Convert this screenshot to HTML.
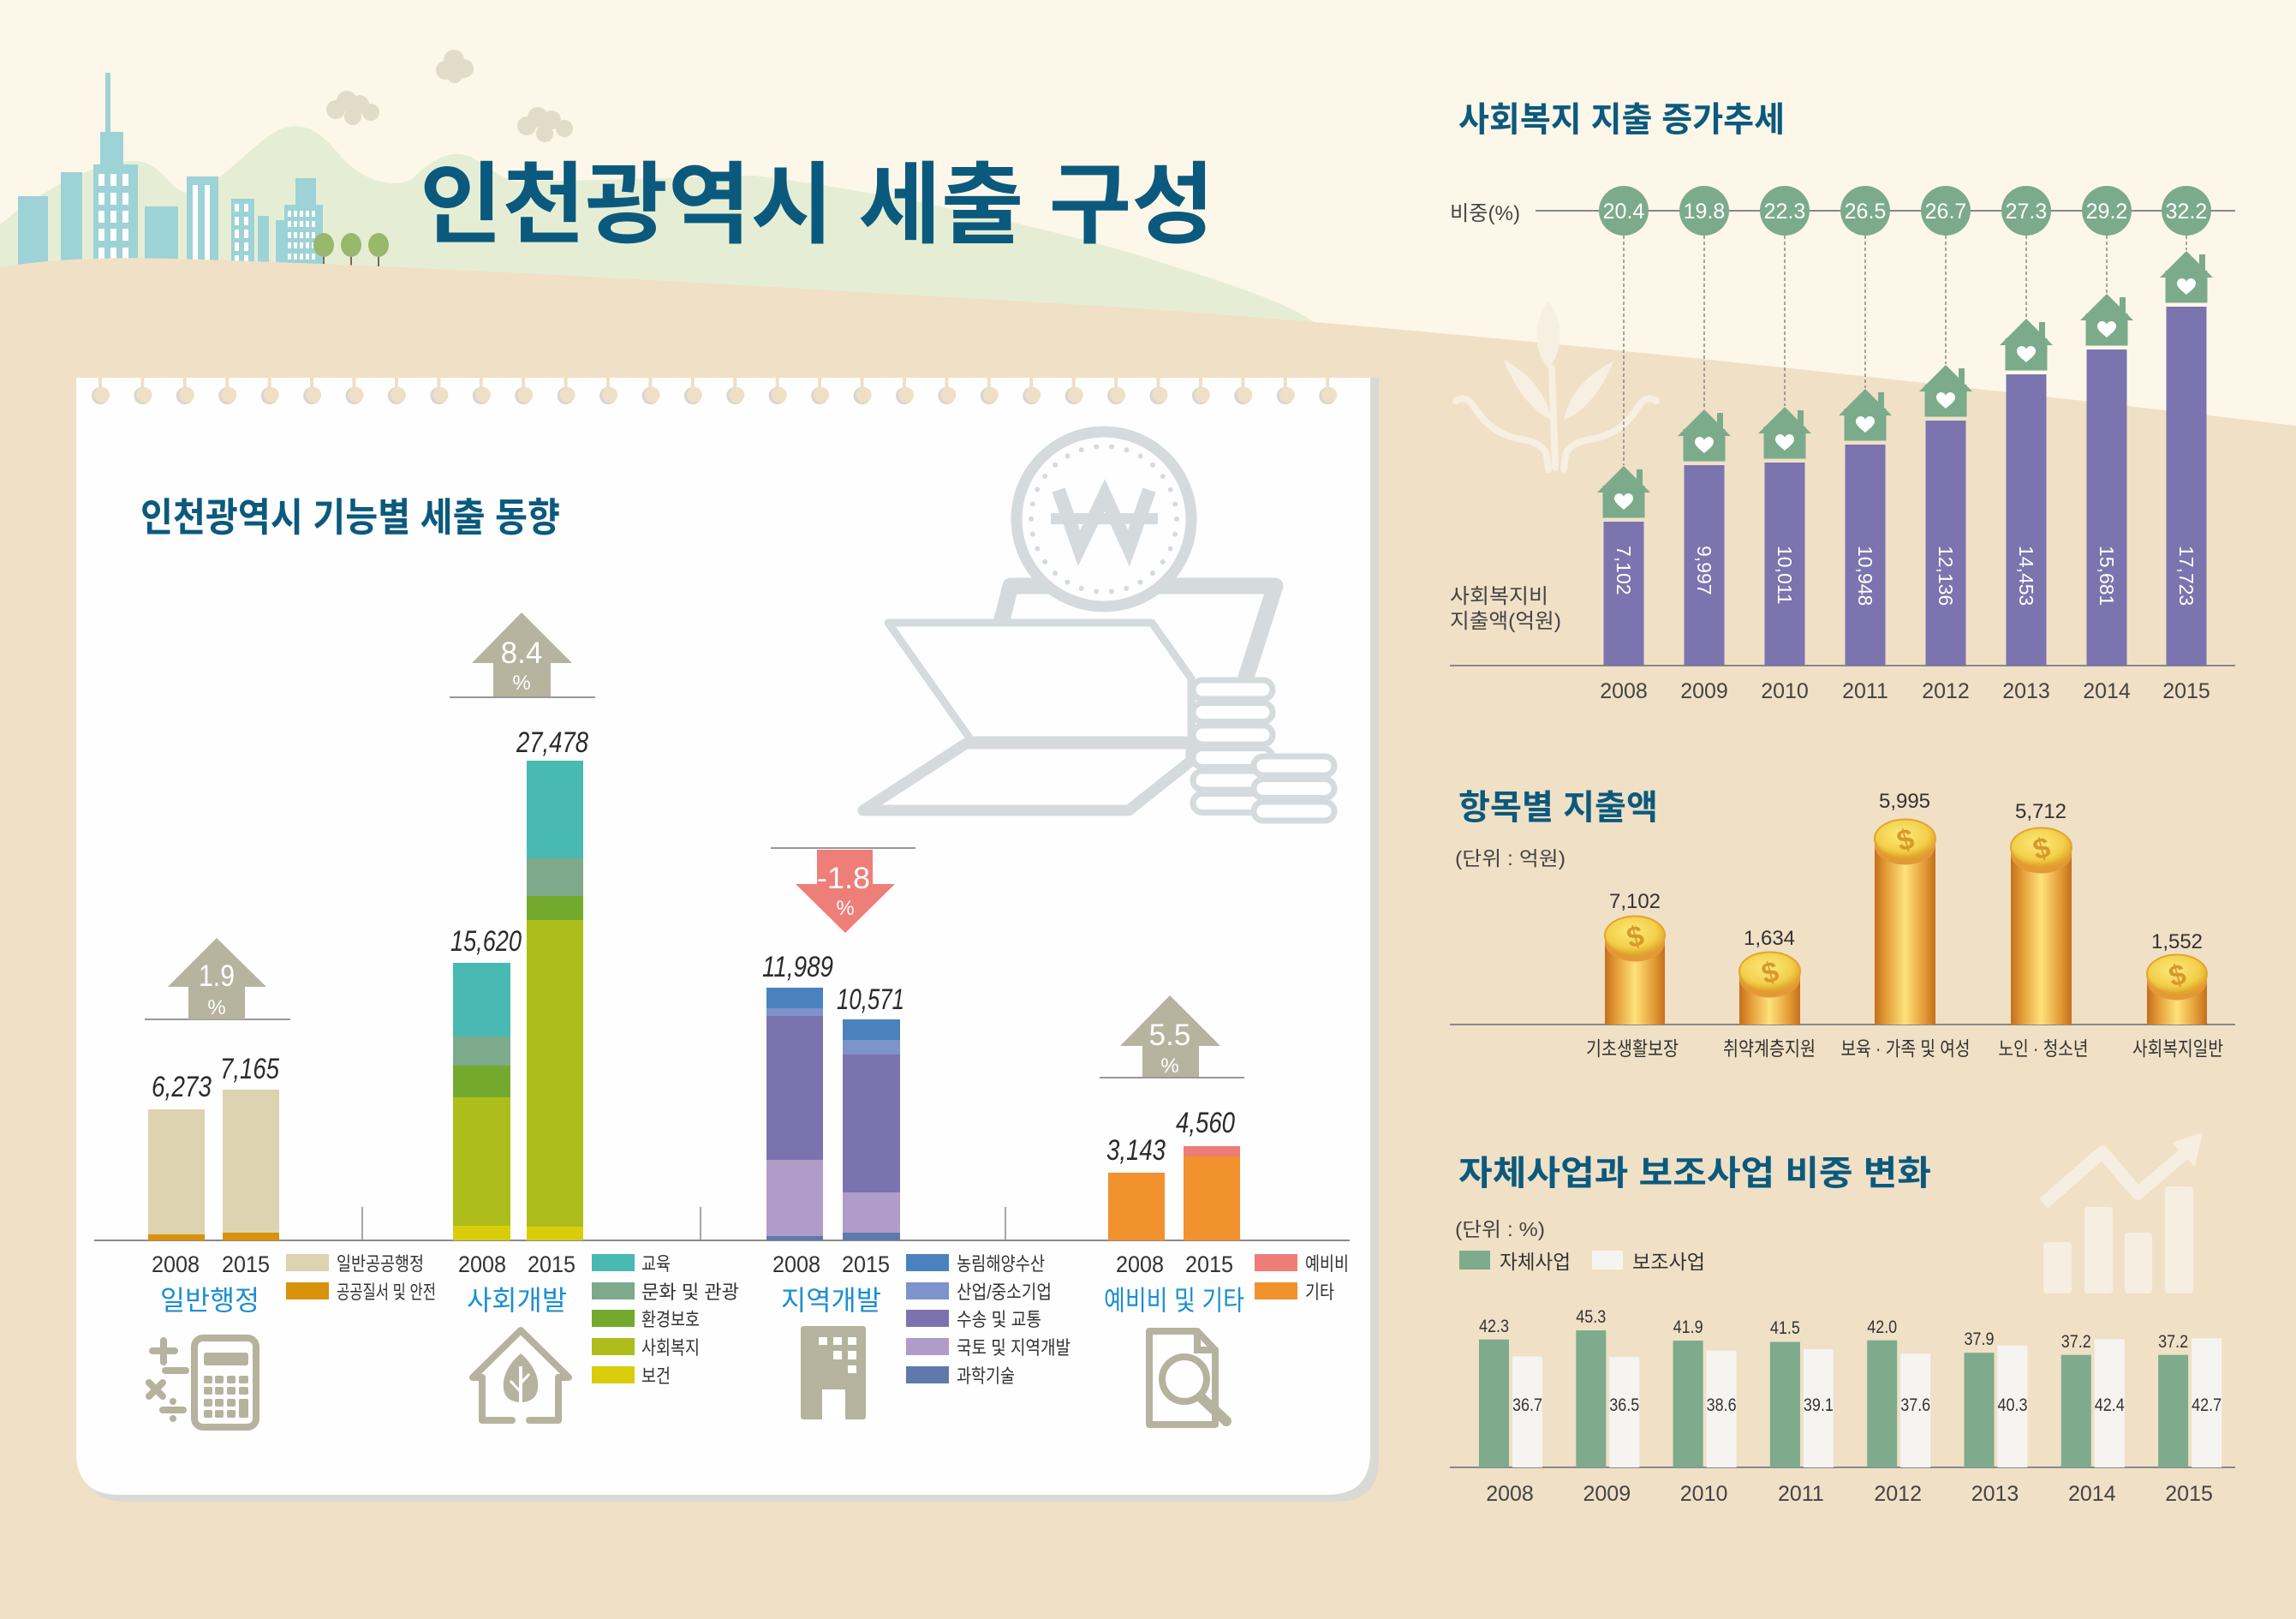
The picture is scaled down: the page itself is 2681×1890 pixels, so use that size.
<!DOCTYPE html>
<html><head><meta charset="utf-8">
<style>
html,body{margin:0;padding:0;background:#fdf7e9;}
svg{display:block;}
.n{font-family:"Liberation Sans",sans-serif;}
.k{font-family:"Liberation Sans","Noto Sans CJK KR",sans-serif;}
.t{font-family:"Liberation Sans","Noto Sans CJK KR",sans-serif;font-weight:700;fill:#0b5a7d;}
.h{font-family:"Liberation Sans",sans-serif;font-style:italic;fill:#2b2b2b;}
</style></head><body>
<svg width="2681" height="1890" viewBox="0 0 2681 1890" xmlns="http://www.w3.org/2000/svg">
<defs>
 <linearGradient id="cyl" x1="0" x2="1" y1="0" y2="0">
  <stop offset="0" stop-color="#c46f1c"/>
  <stop offset="0.18" stop-color="#e39a36"/>
  <stop offset="0.5" stop-color="#fde27a"/>
  <stop offset="0.82" stop-color="#e39a36"/>
  <stop offset="1" stop-color="#c46f1c"/>
 </linearGradient>
 <radialGradient id="face" cx="0.45" cy="0.4" r="0.6">
  <stop offset="0" stop-color="#fbea7c"/>
  <stop offset="0.7" stop-color="#f3cf4a"/>
  <stop offset="1" stop-color="#e0a52c"/>
 </radialGradient>
 <path id="heart" d="M0,9 C-3,6 -11,1 -11,-4 C-11,-8 -8,-10 -5.5,-10 C-2.5,-10 -0.5,-8 0,-6 C0.5,-8 2.5,-10 5.5,-10 C8,-10 11,-8 11,-4 C11,1 3,6 0,9 Z"/>
</defs>
<rect width="2681" height="1890" fill="#fdf7e9"/>

<!-- green hill -->
<path d="M0,262 C50,220 120,185 160,188 C190,190 200,225 220,225 C250,225 300,160 330,150 C360,140 380,160 400,185 C430,215 460,218 480,210 C510,180 530,175 550,183 C580,200 590,215 620,212 L880,205 C1040,225 1200,260 1330,298 C1430,330 1500,350 1540,380 L1540,420 L0,420 Z" fill="#e5eed4"/>

<!-- clouds -->
<g fill="#e2dbc9">
 <circle cx="520" cy="82" r="11"/><circle cx="530" cy="70" r="12"/><circle cx="542" cy="80" r="11"/><circle cx="531" cy="88" r="9"/>
 <circle cx="392" cy="128" r="11"/><circle cx="405" cy="118" r="12"/><circle cx="420" cy="122" r="11"/><circle cx="433" cy="131" r="10"/><circle cx="412" cy="136" r="10"/>
 <circle cx="615" cy="147" r="11"/><circle cx="628" cy="137" r="12"/><circle cx="644" cy="140" r="11"/><circle cx="659" cy="150" r="10"/><circle cx="636" cy="156" r="10"/>
</g>

<!-- buildings -->
<g fill="#9dd2d6">
 <rect x="21" y="229" width="35" height="90"/>
 <rect x="71" y="201" width="25" height="118"/>
 <rect x="109" y="192" width="52" height="125"/><rect x="117" y="154" width="27" height="40"/><rect x="123" y="85" width="6" height="70"/>
 <rect x="169" y="241" width="39" height="80"/>
 <rect x="218" y="206" width="37" height="110"/>
 <rect x="270" y="232" width="27" height="85"/>
 <rect x="301" y="252" width="13" height="65"/>
 <rect x="322" y="257" width="15" height="60"/>
 <rect x="332" y="239" width="45" height="80"/><rect x="345" y="208" width="24" height="33"/>
</g>
<g fill="#ffffff">
 <rect x="115" y="203" width="7" height="14"/><rect x="129" y="203" width="7" height="14"/><rect x="143" y="203" width="7" height="14"/>
 <rect x="115" y="225" width="7" height="14"/><rect x="129" y="225" width="7" height="14"/><rect x="143" y="225" width="7" height="14"/>
 <rect x="115" y="246" width="7" height="14"/><rect x="129" y="246" width="7" height="14"/><rect x="143" y="246" width="7" height="14"/>
 <rect x="115" y="267" width="7" height="14"/><rect x="129" y="267" width="7" height="14"/><rect x="143" y="267" width="7" height="14"/>
 <rect x="115" y="289" width="7" height="14"/><rect x="129" y="289" width="7" height="14"/><rect x="143" y="289" width="7" height="14"/>
 <rect x="225" y="216" width="6" height="95"/><rect x="239" y="216" width="6" height="95"/>
 <rect x="274" y="238" width="5" height="9"/><rect x="285" y="238" width="5" height="9"/>
 <rect x="274" y="253" width="5" height="10"/><rect x="285" y="253" width="5" height="10"/>
 <rect x="274" y="268" width="5" height="10"/><rect x="285" y="268" width="5" height="10"/>
 <rect x="274" y="283" width="5" height="10"/><rect x="285" y="283" width="5" height="10"/>
 <rect x="274" y="298" width="5" height="9"/><rect x="285" y="298" width="5" height="9"/>
 <rect x="336" y="246" width="4" height="7"/><rect x="343" y="246" width="4" height="7"/><rect x="350" y="246" width="4" height="7"/><rect x="357" y="246" width="4" height="7"/><rect x="364" y="246" width="4" height="7"/>
 <rect x="336" y="258" width="4" height="7"/><rect x="343" y="258" width="4" height="7"/><rect x="350" y="258" width="4" height="7"/><rect x="357" y="258" width="4" height="7"/><rect x="364" y="258" width="4" height="7"/>
 <rect x="336" y="271" width="4" height="7"/><rect x="343" y="271" width="4" height="7"/><rect x="350" y="271" width="4" height="7"/><rect x="357" y="271" width="4" height="7"/><rect x="364" y="271" width="4" height="7"/>
 <rect x="336" y="283" width="4" height="7"/><rect x="343" y="283" width="4" height="7"/><rect x="350" y="283" width="4" height="7"/><rect x="357" y="283" width="4" height="7"/><rect x="364" y="283" width="4" height="7"/>
 <rect x="336" y="296" width="4" height="7"/><rect x="343" y="296" width="4" height="7"/><rect x="350" y="296" width="4" height="7"/><rect x="357" y="296" width="4" height="7"/><rect x="364" y="296" width="4" height="7"/>
</g>
<g stroke="#7a6a55" stroke-width="2"><line x1="378" y1="296" x2="378" y2="312"/><line x1="410" y1="296" x2="410" y2="312"/><line x1="442" y1="296" x2="442" y2="312"/></g>
<g fill="#98b86c"><ellipse cx="378" cy="286" rx="12" ry="14"/><ellipse cx="410" cy="286" rx="12" ry="14"/><ellipse cx="442" cy="286" rx="12" ry="14"/></g>

<!-- tan ground -->
<path d="M0,312 C60,302 120,300 200,302 C500,310 900,335 1300,358 C1700,385 2200,440 2681,497 L2681,1890 L0,1890 Z" fill="#f0e0c6"/>

<!-- main title -->
<text class="t" x="490" y="275" font-size="104" font-weight="900" textLength="928" lengthAdjust="spacingAndGlyphs">인천광역시 세출 구성</text>

<!-- panel -->
<path d="M97,441 H1610 V1703 Q1610,1753 1560,1753 H147 Q97,1753 97,1703 Z" fill="#d9d9d6"/>
<path d="M89,441 H1600 V1695 Q1600,1745 1550,1745 H139 Q89,1745 89,1695 Z" fill="#fefefe"/>

<!-- binder holes -->
<g id="holes">
</g>

<!-- left title -->
<text class="t" x="164" y="620" font-size="46" textLength="490" lengthAdjust="spacingAndGlyphs">인천광역시 기능별 세출 동향</text>

<!-- laptop illustration -->
<g fill="none" stroke="#d5dadd" stroke-linejoin="round">
 <polyline points="1167,735 1180,684 1489,684 1452,800" stroke-width="19"/>
 <polygon points="1037,727 1345,727 1391,792 1391,864 1134,864" stroke-width="9" fill="#fefefe"/>
 <polygon points="1128,868 1391,868 1391,888 1318,946 1008,946" stroke-width="13" fill="#fefefe"/>
 <circle cx="1289" cy="606" r="102" stroke-width="13" fill="#fefefe"/>
 <circle cx="1289" cy="606" r="85" stroke-width="6" stroke-dasharray="0 17.8" stroke-linecap="round"/>
 <polyline points="1236,572 1260,640 1290,578 1318,640 1342,572" stroke-width="16" stroke-linejoin="miter"/>
</g>
<rect x="1227" y="599" width="125" height="13" fill="#d5dadd"/>
<g fill="#fefefe" stroke="#d5dadd" stroke-width="7">
 <rect x="1393" y="794" width="93" height="22" rx="11"/>
 <rect x="1393" y="820.5" width="93" height="22" rx="11"/>
 <rect x="1393" y="847" width="93" height="22" rx="11"/>
 <rect x="1393" y="873.5" width="93" height="22" rx="11"/>
 <rect x="1393" y="900" width="93" height="22" rx="11"/>
 <rect x="1393" y="926.5" width="93" height="22" rx="11"/>
 <rect x="1464" y="883" width="94" height="22" rx="11"/>
 <rect x="1464" y="909.5" width="94" height="22" rx="11"/>
 <rect x="1464" y="936" width="94" height="22" rx="11"/>
</g>

<!-- left chart axis & separators -->
<line x1="110" y1="1448" x2="1576" y2="1448" stroke="#8a8a8a" stroke-width="2"/>
<g stroke="#8a8a8a" stroke-width="1.5">
 <line x1="423" y1="1409" x2="423" y2="1448"/>
 <line x1="818" y1="1409" x2="818" y2="1448"/>
 <line x1="1174" y1="1409" x2="1174" y2="1448"/>
</g>

<!-- general admin bars -->
<rect x="173" y="1295" width="66" height="146" fill="#ddd3b0"/>
<rect x="173" y="1441" width="66" height="7" fill="#d8920c"/>
<rect x="260" y="1272" width="66" height="167" fill="#ddd3b0"/>
<rect x="260" y="1439" width="66" height="9" fill="#d8920c"/>
<!-- social -->
<rect x="529" y="1124" width="67" height="86" fill="#48b9b3"/>
<rect x="529" y="1210" width="67" height="34" fill="#7daa8b"/>
<rect x="529" y="1244" width="67" height="37" fill="#73aa2d"/>
<rect x="529" y="1281" width="67" height="150" fill="#adbd1b"/>
<rect x="529" y="1431" width="67" height="17" fill="#d9cd0b"/>
<rect x="615" y="888" width="66" height="114" fill="#48b9b3"/>
<rect x="615" y="1002" width="66" height="44" fill="#7daa8b"/>
<rect x="615" y="1046" width="66" height="28" fill="#73aa2d"/>
<rect x="615" y="1074" width="66" height="358" fill="#adbd1b"/>
<rect x="615" y="1432" width="66" height="16" fill="#d9cd0b"/>
<!-- regional -->
<rect x="895" y="1153" width="66" height="24" fill="#4a82be"/>
<rect x="895" y="1177" width="66" height="9" fill="#7d93c9"/>
<rect x="895" y="1186" width="66" height="168" fill="#7b73ae"/>
<rect x="895" y="1354" width="66" height="89" fill="#b09cc8"/>
<rect x="895" y="1443" width="66" height="5" fill="#6079ab"/>
<rect x="984" y="1190" width="67" height="24" fill="#4a82be"/>
<rect x="984" y="1214" width="67" height="17" fill="#7d93c9"/>
<rect x="984" y="1231" width="67" height="161" fill="#7b73ae"/>
<rect x="984" y="1392" width="67" height="47" fill="#b09cc8"/>
<rect x="984" y="1439" width="67" height="9" fill="#6079ab"/>
<!-- reserve -->
<rect x="1294" y="1369" width="66" height="79" fill="#f1922f"/>
<rect x="1382" y="1338" width="66" height="12" fill="#ee7c77"/>
<rect x="1382" y="1350" width="66" height="98" fill="#f1922f"/>

<!-- handwritten values -->
<g class="h" font-size="34">
 <text x="177" y="1280" textLength="70" lengthAdjust="spacingAndGlyphs">6,273</text>
 <text x="257" y="1259" textLength="69" lengthAdjust="spacingAndGlyphs">7,165</text>
 <text x="526" y="1110" textLength="83" lengthAdjust="spacingAndGlyphs">15,620</text>
 <text x="603" y="878" textLength="84" lengthAdjust="spacingAndGlyphs">27,478</text>
 <text x="890" y="1140" textLength="83" lengthAdjust="spacingAndGlyphs">11,989</text>
 <text x="977" y="1178" textLength="79" lengthAdjust="spacingAndGlyphs">10,571</text>
 <text x="1292" y="1354" textLength="69" lengthAdjust="spacingAndGlyphs">3,143</text>
 <text x="1373" y="1322" textLength="69" lengthAdjust="spacingAndGlyphs">4,560</text>
</g>

<!-- arrows -->
<g stroke="#777" stroke-width="1.5">
 <line x1="169" y1="1190" x2="339" y2="1190"/>
 <line x1="525" y1="814" x2="695" y2="814"/>
 <line x1="900" y1="990" x2="1069" y2="990"/>
 <line x1="1284" y1="1258" x2="1453" y2="1258"/>
</g>
<g fill="#b6b49f">
 <polygon points="253,1095 196,1152 220,1152 220,1190 286,1190 286,1152 311,1152"/>
 <polygon points="609,715 551,774 576,774 576,813 643,813 643,774 668,774"/>
 <polygon points="1366,1162 1308,1221 1334,1221 1334,1257 1400,1257 1400,1221 1425,1221"/>
</g>
<polygon points="954,992 1019,992 1019,1032 1045,1032 987,1089 929,1032 954,1032" fill="#ee7e78"/>
<g class="n" fill="#ffffff" text-anchor="middle">
 <text x="253" y="1151" font-size="35" textLength="42" lengthAdjust="spacingAndGlyphs">1.9</text>
 <text x="253" y="1184" font-size="24">%</text>
 <text x="609" y="774" font-size="35">8.4</text>
 <text x="609" y="805" font-size="24">%</text>
 <text x="985" y="1037" font-size="35" textLength="62" lengthAdjust="spacingAndGlyphs">-1.8</text>
 <text x="987" y="1068" font-size="24">%</text>
 <text x="1366" y="1220" font-size="35">5.5</text>
 <text x="1366" y="1252" font-size="24">%</text>
</g>

<!-- year labels -->
<g class="n" fill="#333" font-size="27" text-anchor="middle">
 <text x="205" y="1485" textLength="56" lengthAdjust="spacingAndGlyphs">2008</text>
 <text x="287" y="1485" textLength="56" lengthAdjust="spacingAndGlyphs">2015</text>
 <text x="563" y="1485" textLength="56" lengthAdjust="spacingAndGlyphs">2008</text>
 <text x="644" y="1485" textLength="56" lengthAdjust="spacingAndGlyphs">2015</text>
 <text x="930" y="1485" textLength="56" lengthAdjust="spacingAndGlyphs">2008</text>
 <text x="1011" y="1485" textLength="56" lengthAdjust="spacingAndGlyphs">2015</text>
 <text x="1331" y="1485" textLength="56" lengthAdjust="spacingAndGlyphs">2008</text>
 <text x="1412" y="1485" textLength="56" lengthAdjust="spacingAndGlyphs">2015</text>
</g>

<!-- legends -->
<rect x="334" y="1464" width="50" height="20" fill="#ddd3b0"/>
<rect x="334" y="1497" width="50" height="20" fill="#d8920c"/>
<rect x="691" y="1464" width="50" height="20" fill="#48b9b3"/>
<rect x="691" y="1497" width="50" height="20" fill="#7daa8b"/>
<rect x="691" y="1529" width="50" height="20" fill="#73aa2d"/>
<rect x="691" y="1562" width="50" height="20" fill="#adbd1b"/>
<rect x="691" y="1595" width="50" height="20" fill="#d9cd0b"/>
<rect x="1058" y="1464" width="50" height="20" fill="#4a82be"/>
<rect x="1058" y="1497" width="50" height="20" fill="#7d93c9"/>
<rect x="1058" y="1529" width="50" height="20" fill="#7b73ae"/>
<rect x="1058" y="1562" width="50" height="20" fill="#b09cc8"/>
<rect x="1058" y="1595" width="50" height="20" fill="#6079ab"/>
<rect x="1465" y="1464" width="50" height="20" fill="#ee7c77"/>
<rect x="1465" y="1497" width="50" height="20" fill="#f1922f"/>
<g class="k" fill="#333" font-size="22">
 <text x="393" y="1483" textLength="102" lengthAdjust="spacingAndGlyphs">일반공공행정</text>
 <text x="393" y="1516" textLength="116" lengthAdjust="spacingAndGlyphs">공공질서 및 안전</text>
 <text x="749" y="1483" textLength="34" lengthAdjust="spacingAndGlyphs">교육</text>
 <text x="749" y="1516" textLength="114" lengthAdjust="spacingAndGlyphs">문화 및 관광</text>
 <text x="749" y="1548" textLength="68" lengthAdjust="spacingAndGlyphs">환경보호</text>
 <text x="749" y="1581" textLength="68" lengthAdjust="spacingAndGlyphs">사회복지</text>
 <text x="749" y="1614" textLength="34" lengthAdjust="spacingAndGlyphs">보건</text>
 <text x="1117" y="1483" textLength="103" lengthAdjust="spacingAndGlyphs">농림해양수산</text>
 <text x="1117" y="1516" textLength="111" lengthAdjust="spacingAndGlyphs">산업/중소기업</text>
 <text x="1117" y="1548" textLength="99" lengthAdjust="spacingAndGlyphs">수송 및 교통</text>
 <text x="1117" y="1581" textLength="133" lengthAdjust="spacingAndGlyphs">국토 및 지역개발</text>
 <text x="1117" y="1614" textLength="68" lengthAdjust="spacingAndGlyphs">과학기술</text>
 <text x="1524" y="1483" textLength="51" lengthAdjust="spacingAndGlyphs">예비비</text>
 <text x="1524" y="1516" textLength="34" lengthAdjust="spacingAndGlyphs">기타</text>
</g>
<g class="k" fill="#1b8fd1" font-size="32">
 <text x="187" y="1529" textLength="116" lengthAdjust="spacingAndGlyphs">일반행정</text>
 <text x="545" y="1529" textLength="117" lengthAdjust="spacingAndGlyphs">사회개발</text>
 <text x="912" y="1529" textLength="117" lengthAdjust="spacingAndGlyphs">지역개발</text>
 <text x="1289" y="1529" textLength="164" lengthAdjust="spacingAndGlyphs">예비비 및 기타</text>
</g>

<!-- icons -->
<g fill="#b5b39d" stroke="none">
 <!-- calculator -->
 <rect x="227" y="1562" width="72" height="104" rx="10" fill="none" stroke="#b5b39d" stroke-width="8"/>
 <rect x="238" y="1579" width="52" height="15" rx="3"/>
 <rect x="238" y="1606" width="10" height="9" rx="2"/><rect x="251" y="1606" width="10" height="9" rx="2"/><rect x="265" y="1606" width="10" height="9" rx="2"/><rect x="279" y="1606" width="11" height="9" rx="2"/>
 <rect x="238" y="1619" width="10" height="9" rx="2"/><rect x="251" y="1619" width="10" height="9" rx="2"/><rect x="265" y="1619" width="10" height="9" rx="2"/><rect x="279" y="1619" width="11" height="9" rx="2"/>
 <rect x="238" y="1633" width="10" height="9" rx="2"/><rect x="251" y="1633" width="10" height="9" rx="2"/><rect x="265" y="1633" width="10" height="9" rx="2"/><rect x="279" y="1633" width="11" height="22" rx="2"/>
 <rect x="238" y="1646" width="10" height="9" rx="2"/><rect x="251" y="1646" width="10" height="9" rx="2"/><rect x="265" y="1646" width="10" height="9" rx="2"/>
 <circle cx="202" cy="1636" r="4"/><circle cx="202" cy="1656" r="4"/>
 <!-- building -->
 <rect x="935" y="1548" width="76" height="109" rx="3"/>
 <!-- leaf -->
 <path d="M608,1580 C590,1595 584,1615 590,1628 C596,1640 620,1640 626,1628 C632,1615 626,1595 608,1580 Z"/>
</g>
<g stroke="#b5b39d" stroke-width="8" stroke-linecap="round" fill="none">
 <line x1="178" y1="1577" x2="204" y2="1577"/><line x1="191" y1="1565" x2="191" y2="1590"/>
 <line x1="193" y1="1600" x2="217" y2="1600"/>
 <line x1="174" y1="1614" x2="190" y2="1630"/><line x1="190" y1="1614" x2="174" y2="1630"/>
 <line x1="190" y1="1646" x2="214" y2="1646"/>
 <!-- house -->
 <polyline points="563,1658 563,1608 552,1608 608,1553 664,1608 652,1608 652,1658 618,1658" stroke-linejoin="round"/>
 <line x1="563" y1="1658" x2="598" y2="1658"/>
 <!-- doc + magnifier -->
 <path d="M1398,1554 H1342 V1663 H1419 V1576 Z" stroke-linejoin="round"/>
 <path d="M1398,1554 V1576 H1419"/>
 <circle cx="1383" cy="1610" r="26" fill="#fefefe"/>
 <line x1="1402" y1="1631" x2="1432" y2="1659" stroke-width="12"/>
</g>
<g fill="#ffffff">
 <line x1="608" y1="1595" x2="608" y2="1658" stroke="#fefefe" stroke-width="4"/>
 <line x1="608" y1="1625" x2="596" y2="1612" stroke="#fefefe" stroke-width="3"/>
 <line x1="608" y1="1615" x2="618" y2="1604" stroke="#fefefe" stroke-width="3"/>
 <rect x="960" y="1622" width="27" height="36"/>
 <rect x="956" y="1561" width="10" height="9"/><rect x="973" y="1561" width="10" height="9"/><rect x="990" y="1561" width="10" height="9"/>
 <rect x="973" y="1577" width="10" height="10"/><rect x="990" y="1577" width="10" height="10"/>
 <rect x="990" y="1594" width="10" height="9"/>
</g>

<!-- ============ RIGHT TOP ============ -->
<g fill="#f7efe1">
 <path d="M1808,352 C1790,375 1790,410 1808,430 C1826,410 1826,375 1808,352 Z"/>
 <path d="M1756,420 C1768,452 1790,482 1812,490 C1806,460 1785,435 1756,420 Z"/>
 <path d="M1884,422 C1871,454 1850,482 1826,490 C1832,460 1855,435 1884,422 Z"/>
</g>
<g fill="none" stroke="#f7efe1" stroke-width="8" stroke-linecap="round">
 <line x1="1812" y1="430" x2="1816" y2="546"/>
 <path d="M1700,468 Q1712,460 1722,476 Q1740,505 1772,512 Q1802,516 1806,532 L1808,548"/>
 <path d="M1934,468 Q1922,460 1912,476 Q1895,505 1862,512 Q1832,516 1828,532 L1826,548"/>
</g>

<text class="t" x="1703" y="153" font-size="40" textLength="381" lengthAdjust="spacingAndGlyphs">사회복지 지출 증가추세</text>
<text class="k" x="1693" y="257" font-size="24" fill="#444" textLength="82" lengthAdjust="spacingAndGlyphs">비중(%)</text>
<line x1="1793" y1="246" x2="2610" y2="246" stroke="#888" stroke-width="2"/>
<text class="k" x="1693" y="704" font-size="24" fill="#444" textLength="115" lengthAdjust="spacingAndGlyphs">사회복지비</text>
<text class="k" x="1693" y="733" font-size="24" fill="#444" textLength="130" lengthAdjust="spacingAndGlyphs">지출액(억원)</text>

<g id="rt"></g>
<line x1="1693" y1="777" x2="2610" y2="777" stroke="#888" stroke-width="2"/>

<!-- ============ RIGHT MIDDLE ============ -->
<text class="t" x="1703" y="956" font-size="40" textLength="233" lengthAdjust="spacingAndGlyphs">항목별 지출액</text>
<text class="k" x="1699" y="1010" font-size="23" fill="#444" textLength="129" lengthAdjust="spacingAndGlyphs">(단위 : 억원)</text>
<g id="coins"></g>
<line x1="1693" y1="1196" x2="2610" y2="1196" stroke="#888" stroke-width="2"/>
<g class="k" fill="#333" font-size="23" text-anchor="middle">
 <text x="1906" y="1232" textLength="108" lengthAdjust="spacingAndGlyphs">기초생활보장</text>
 <text x="2066" y="1232" textLength="108" lengthAdjust="spacingAndGlyphs">취약계층지원</text>
 <text x="2225" y="1232" textLength="151" lengthAdjust="spacingAndGlyphs">보육 · 가족 및 여성</text>
 <text x="2386" y="1232" textLength="105" lengthAdjust="spacingAndGlyphs">노인 · 청소년</text>
 <text x="2543" y="1232" textLength="106" lengthAdjust="spacingAndGlyphs">사회복지일반</text>
</g>

<!-- ============ RIGHT BOTTOM ============ -->
<g fill="#f6eee0">
 <rect x="2386" y="1450" width="33" height="60" rx="4"/>
 <rect x="2434" y="1409" width="33" height="101" rx="4"/>
 <rect x="2481" y="1439" width="32" height="71" rx="4"/>
 <rect x="2528" y="1385" width="33" height="125" rx="4"/>
 <polygon points="2572,1322 2536,1334 2563,1362"/>
</g>
<polyline points="2386,1405 2455,1345 2496,1393 2553,1345" fill="none" stroke="#f6eee0" stroke-width="15" stroke-linejoin="round"/>

<text class="t" x="1703" y="1383" font-size="40" textLength="552" lengthAdjust="spacingAndGlyphs">자체사업과 보조사업 비중 변화</text>
<text class="k" x="1699" y="1443" font-size="23" fill="#444" textLength="105" lengthAdjust="spacingAndGlyphs">(단위 : %)</text>
<rect x="1704" y="1460" width="36" height="22" fill="#7dab8b"/>
<text class="k" x="1751" y="1481" font-size="23" fill="#333" textLength="83" lengthAdjust="spacingAndGlyphs">자체사업</text>
<rect x="1859" y="1460" width="36" height="22" fill="#f6f4f1"/>
<text class="k" x="1906" y="1481" font-size="23" fill="#333" textLength="85" lengthAdjust="spacingAndGlyphs">보조사업</text>
<g id="rb"></g>
<line x1="1693" y1="1713" x2="2610" y2="1713" stroke="#888" stroke-width="2"/>

<!-- ======= generated content inlined below ======= -->
<g>
<!-- holes -->
<g fill="#efdfc5">
<rect x="115" y="441" width="4" height="12"/><rect x="164.4" y="441" width="4" height="12"/><rect x="213.8" y="441" width="4" height="12"/><rect x="263.3" y="441" width="4" height="12"/><rect x="312.7" y="441" width="4" height="12"/><rect x="362.1" y="441" width="4" height="12"/><rect x="411.5" y="441" width="4" height="12"/><rect x="460.9" y="441" width="4" height="12"/><rect x="510.4" y="441" width="4" height="12"/><rect x="559.8" y="441" width="4" height="12"/><rect x="609.2" y="441" width="4" height="12"/><rect x="658.6" y="441" width="4" height="12"/><rect x="708" y="441" width="4" height="12"/><rect x="757.5" y="441" width="4" height="12"/><rect x="806.9" y="441" width="4" height="12"/><rect x="856.3" y="441" width="4" height="12"/><rect x="905.7" y="441" width="4" height="12"/><rect x="955.1" y="441" width="4" height="12"/><rect x="1004.6" y="441" width="4" height="12"/><rect x="1054" y="441" width="4" height="12"/><rect x="1103.4" y="441" width="4" height="12"/><rect x="1152.8" y="441" width="4" height="12"/><rect x="1202.2" y="441" width="4" height="12"/><rect x="1251.7" y="441" width="4" height="12"/><rect x="1301.1" y="441" width="4" height="12"/><rect x="1350.5" y="441" width="4" height="12"/><rect x="1399.9" y="441" width="4" height="12"/><rect x="1449.3" y="441" width="4" height="12"/><rect x="1498.8" y="441" width="4" height="12"/><rect x="1548.2" y="441" width="4" height="12"/>
</g>
<g fill="#d6d6d4">
<circle cx="117" cy="462" r="10"/><circle cx="166.4" cy="462" r="10"/><circle cx="215.8" cy="462" r="10"/><circle cx="265.3" cy="462" r="10"/><circle cx="314.7" cy="462" r="10"/><circle cx="364.1" cy="462" r="10"/><circle cx="413.5" cy="462" r="10"/><circle cx="462.9" cy="462" r="10"/><circle cx="512.4" cy="462" r="10"/><circle cx="561.8" cy="462" r="10"/><circle cx="611.2" cy="462" r="10"/><circle cx="660.6" cy="462" r="10"/><circle cx="710" cy="462" r="10"/><circle cx="759.5" cy="462" r="10"/><circle cx="808.9" cy="462" r="10"/><circle cx="858.3" cy="462" r="10"/><circle cx="907.7" cy="462" r="10"/><circle cx="957.1" cy="462" r="10"/><circle cx="1006.6" cy="462" r="10"/><circle cx="1056" cy="462" r="10"/><circle cx="1105.4" cy="462" r="10"/><circle cx="1154.8" cy="462" r="10"/><circle cx="1204.2" cy="462" r="10"/><circle cx="1253.7" cy="462" r="10"/><circle cx="1303.1" cy="462" r="10"/><circle cx="1352.5" cy="462" r="10"/><circle cx="1401.9" cy="462" r="10"/><circle cx="1451.3" cy="462" r="10"/><circle cx="1500.8" cy="462" r="10"/><circle cx="1550.2" cy="462" r="10"/>
</g>
<g fill="#efdfc4">
<circle cx="119" cy="461" r="9"/><circle cx="168.4" cy="461" r="9"/><circle cx="217.8" cy="461" r="9"/><circle cx="267.3" cy="461" r="9"/><circle cx="316.7" cy="461" r="9"/><circle cx="366.1" cy="461" r="9"/><circle cx="415.5" cy="461" r="9"/><circle cx="464.9" cy="461" r="9"/><circle cx="514.4" cy="461" r="9"/><circle cx="563.8" cy="461" r="9"/><circle cx="613.2" cy="461" r="9"/><circle cx="662.6" cy="461" r="9"/><circle cx="712" cy="461" r="9"/><circle cx="761.5" cy="461" r="9"/><circle cx="810.9" cy="461" r="9"/><circle cx="860.3" cy="461" r="9"/><circle cx="909.7" cy="461" r="9"/><circle cx="959.1" cy="461" r="9"/><circle cx="1008.6" cy="461" r="9"/><circle cx="1058" cy="461" r="9"/><circle cx="1107.4" cy="461" r="9"/><circle cx="1156.8" cy="461" r="9"/><circle cx="1206.2" cy="461" r="9"/><circle cx="1255.7" cy="461" r="9"/><circle cx="1305.1" cy="461" r="9"/><circle cx="1354.5" cy="461" r="9"/><circle cx="1403.9" cy="461" r="9"/><circle cx="1453.3" cy="461" r="9"/><circle cx="1502.8" cy="461" r="9"/><circle cx="1552.2" cy="461" r="9"/>
</g>

<!-- right top: dashed lines, bars, houses, circles -->
<g stroke="#777" stroke-width="1.3" stroke-dasharray="4 3">
 <line x1="1896" y1="275" x2="1896" y2="543"/>
 <line x1="1990" y1="275" x2="1990" y2="477"/>
 <line x1="2084" y1="275" x2="2084" y2="474"/>
 <line x1="2178" y1="275" x2="2178" y2="453"/>
 <line x1="2272" y1="275" x2="2272" y2="425"/>
 <line x1="2366" y1="275" x2="2366" y2="371"/>
 <line x1="2460" y1="275" x2="2460" y2="342"/>
 <line x1="2553" y1="275" x2="2553" y2="292"/>
</g>
<g fill="#7b74ae">
 <rect x="1872.5" y="609" width="47" height="168"/>
 <rect x="1966.5" y="543" width="47" height="234"/>
 <rect x="2060.5" y="540" width="47" height="237"/>
 <rect x="2154.5" y="519" width="47" height="258"/>
 <rect x="2248.5" y="491" width="47" height="286"/>
 <rect x="2342.5" y="437" width="47" height="340"/>
 <rect x="2436.5" y="408" width="47" height="369"/>
 <rect x="2529.5" y="358" width="47" height="419"/>
</g>
<g fill="#7bab8b">
 <g transform="translate(1896,609)"><polygon points="-31,-34 0,-65 31,-34"/><rect x="15" y="-61" width="7" height="20"/><rect x="-24.5" y="-42" width="49" height="37.5"/><use href="#heart" transform="translate(0,-23)" fill="#fff"/></g>
 <g transform="translate(1990,543)"><polygon points="-31,-34 0,-65 31,-34"/><rect x="15" y="-61" width="7" height="20"/><rect x="-24.5" y="-42" width="49" height="37.5"/><use href="#heart" transform="translate(0,-23)" fill="#fff"/></g>
 <g transform="translate(2084,540)"><polygon points="-31,-34 0,-65 31,-34"/><rect x="15" y="-61" width="7" height="20"/><rect x="-24.5" y="-42" width="49" height="37.5"/><use href="#heart" transform="translate(0,-23)" fill="#fff"/></g>
 <g transform="translate(2178,519)"><polygon points="-31,-34 0,-65 31,-34"/><rect x="15" y="-61" width="7" height="20"/><rect x="-24.5" y="-42" width="49" height="37.5"/><use href="#heart" transform="translate(0,-23)" fill="#fff"/></g>
 <g transform="translate(2272,491)"><polygon points="-31,-34 0,-65 31,-34"/><rect x="15" y="-61" width="7" height="20"/><rect x="-24.5" y="-42" width="49" height="37.5"/><use href="#heart" transform="translate(0,-23)" fill="#fff"/></g>
 <g transform="translate(2366,437)"><polygon points="-31,-34 0,-65 31,-34"/><rect x="15" y="-61" width="7" height="20"/><rect x="-24.5" y="-42" width="49" height="37.5"/><use href="#heart" transform="translate(0,-23)" fill="#fff"/></g>
 <g transform="translate(2460,408)"><polygon points="-31,-34 0,-65 31,-34"/><rect x="15" y="-61" width="7" height="20"/><rect x="-24.5" y="-42" width="49" height="37.5"/><use href="#heart" transform="translate(0,-23)" fill="#fff"/></g>
 <g transform="translate(2553,358)"><polygon points="-31,-34 0,-65 31,-34"/><rect x="15" y="-61" width="7" height="20"/><rect x="-24.5" y="-42" width="49" height="37.5"/><use href="#heart" transform="translate(0,-23)" fill="#fff"/></g>
</g>
<g fill="#7bab8b">
 <circle cx="1896" cy="246" r="29"/><circle cx="1990" cy="246" r="29"/><circle cx="2084" cy="246" r="29"/><circle cx="2178" cy="246" r="29"/>
 <circle cx="2272" cy="246" r="29"/><circle cx="2366" cy="246" r="29"/><circle cx="2460" cy="246" r="29"/><circle cx="2553" cy="246" r="29"/>
</g>
<g class="n" fill="#fff" font-size="25" text-anchor="middle">
 <text x="1896" y="255">20.4</text><text x="1990" y="255">19.8</text><text x="2084" y="255">22.3</text><text x="2178" y="255">26.5</text>
 <text x="2272" y="255">26.7</text><text x="2366" y="255">27.3</text><text x="2460" y="255">29.2</text><text x="2553" y="255">32.2</text>
</g>
<g class="n" fill="#fff" font-size="23">
 <text transform="translate(1896,637) rotate(90)" x="0" y="8">7,102</text>
 <text transform="translate(1990,637) rotate(90)" x="0" y="8">9,997</text>
 <text transform="translate(2084,637) rotate(90)" x="0" y="8">10,011</text>
 <text transform="translate(2178,637) rotate(90)" x="0" y="8">10,948</text>
 <text transform="translate(2272,637) rotate(90)" x="0" y="8">12,136</text>
 <text transform="translate(2366,637) rotate(90)" x="0" y="8">14,453</text>
 <text transform="translate(2460,637) rotate(90)" x="0" y="8">15,681</text>
 <text transform="translate(2553,637) rotate(90)" x="0" y="8">17,723</text>
</g>
<g class="n" fill="#444" font-size="25" text-anchor="middle">
 <text x="1896" y="815">2008</text><text x="1990" y="815">2009</text><text x="2084" y="815">2010</text><text x="2178" y="815">2011</text>
 <text x="2272" y="815">2012</text><text x="2366" y="815">2013</text><text x="2460" y="815">2014</text><text x="2553" y="815">2015</text>
</g>

<!-- coins -->
<g>
 <rect x="1874" y="1092" width="70" height="104" fill="url(#cyl)"/>
 <ellipse cx="1909" cy="1100" rx="35" ry="22.5" fill="#e39a36"/>
 <ellipse cx="1909" cy="1092" rx="35" ry="22.5" fill="url(#face)" stroke="#e2a52e" stroke-width="2"/>
 <text class="n" x="1909" y="1105" font-size="34" font-weight="700" fill="#d7992a" text-anchor="middle" transform="rotate(-15 1909 1092)">$</text>

 <rect x="2031" y="1134" width="71" height="62" fill="url(#cyl)"/>
 <ellipse cx="2066.5" cy="1142" rx="35.5" ry="22.5" fill="#e39a36"/>
 <ellipse cx="2066.5" cy="1134" rx="35.5" ry="22.5" fill="url(#face)" stroke="#e2a52e" stroke-width="2"/>
 <text class="n" x="2066.5" y="1147" font-size="34" font-weight="700" fill="#d7992a" text-anchor="middle" transform="rotate(-15 2066.5 1134)">$</text>

 <rect x="2189" y="979" width="71" height="217" fill="url(#cyl)"/>
 <ellipse cx="2224.5" cy="987" rx="35.5" ry="22.5" fill="#e39a36"/>
 <ellipse cx="2224.5" cy="979" rx="35.5" ry="22.5" fill="url(#face)" stroke="#e2a52e" stroke-width="2"/>
 <text class="n" x="2224.5" y="992" font-size="34" font-weight="700" fill="#d7992a" text-anchor="middle" transform="rotate(-15 2224.5 979)">$</text>

 <rect x="2348" y="989" width="71" height="207" fill="url(#cyl)"/>
 <ellipse cx="2383.5" cy="997" rx="35.5" ry="22.5" fill="#e39a36"/>
 <ellipse cx="2383.5" cy="989" rx="35.5" ry="22.5" fill="url(#face)" stroke="#e2a52e" stroke-width="2"/>
 <text class="n" x="2383.5" y="1002" font-size="34" font-weight="700" fill="#d7992a" text-anchor="middle" transform="rotate(-15 2383.5 989)">$</text>

 <rect x="2507" y="1137" width="70" height="59" fill="url(#cyl)"/>
 <ellipse cx="2542" cy="1145" rx="35" ry="22.5" fill="#e39a36"/>
 <ellipse cx="2542" cy="1137" rx="35" ry="22.5" fill="url(#face)" stroke="#e2a52e" stroke-width="2"/>
 <text class="n" x="2542" y="1150" font-size="34" font-weight="700" fill="#d7992a" text-anchor="middle" transform="rotate(-15 2542 1137)">$</text>
</g>
<g class="n" fill="#333" font-size="24" text-anchor="middle">
 <text x="1909" y="1060">7,102</text>
 <text x="2066" y="1103">1,634</text>
 <text x="2224" y="943">5,995</text>
 <text x="2383" y="955">5,712</text>
 <text x="2542" y="1107">1,552</text>
</g>

<!-- bottom chart bars -->
<g fill="#7dab8b">
 <rect x="1727" y="1563.7" width="35" height="149.3"/>
 <rect x="1840.3" y="1553.1" width="35" height="159.9"/>
 <rect x="1953.6" y="1565.1" width="35" height="147.9"/>
 <rect x="2066.9" y="1566.5" width="35" height="146.5"/>
 <rect x="2180.2" y="1564.7" width="35" height="148.3"/>
 <rect x="2293.5" y="1579.2" width="35" height="133.8"/>
 <rect x="2406.8" y="1581.7" width="35" height="131.3"/>
 <rect x="2520.1" y="1581.7" width="35" height="131.3"/>
</g>
<g fill="#f6f4f1">
 <rect x="1766" y="1583.4" width="35" height="129.6"/>
 <rect x="1879.3" y="1584.2" width="35" height="128.8"/>
 <rect x="1992.6" y="1576.7" width="35" height="136.3"/>
 <rect x="2105.9" y="1575" width="35" height="138"/>
 <rect x="2219.2" y="1580.3" width="35" height="132.7"/>
 <rect x="2332.5" y="1570.7" width="35" height="142.3"/>
 <rect x="2445.8" y="1563.3" width="35" height="149.7"/>
 <rect x="2559.1" y="1562.3" width="35" height="150.7"/>
</g>
<g class="n" fill="#333" font-size="21" text-anchor="middle">
 <text x="1744.5" y="1555" textLength="35" lengthAdjust="spacingAndGlyphs">42.3</text>
 <text x="1857.8" y="1544" textLength="35" lengthAdjust="spacingAndGlyphs">45.3</text>
 <text x="1971.1" y="1556" textLength="35" lengthAdjust="spacingAndGlyphs">41.9</text>
 <text x="2084.4" y="1557" textLength="35" lengthAdjust="spacingAndGlyphs">41.5</text>
 <text x="2197.7" y="1556" textLength="35" lengthAdjust="spacingAndGlyphs">42.0</text>
 <text x="2311" y="1570" textLength="35" lengthAdjust="spacingAndGlyphs">37.9</text>
 <text x="2424.3" y="1573" textLength="35" lengthAdjust="spacingAndGlyphs">37.2</text>
 <text x="2537.6" y="1573" textLength="35" lengthAdjust="spacingAndGlyphs">37.2</text>
 <text x="1783.5" y="1647" textLength="35" lengthAdjust="spacingAndGlyphs">36.7</text>
 <text x="1896.8" y="1647" textLength="35" lengthAdjust="spacingAndGlyphs">36.5</text>
 <text x="2010.1" y="1647" textLength="35" lengthAdjust="spacingAndGlyphs">38.6</text>
 <text x="2123.4" y="1647" textLength="35" lengthAdjust="spacingAndGlyphs">39.1</text>
 <text x="2236.7" y="1647" textLength="35" lengthAdjust="spacingAndGlyphs">37.6</text>
 <text x="2350" y="1647" textLength="35" lengthAdjust="spacingAndGlyphs">40.3</text>
 <text x="2463.3" y="1647" textLength="35" lengthAdjust="spacingAndGlyphs">42.4</text>
 <text x="2576.6" y="1647" textLength="35" lengthAdjust="spacingAndGlyphs">42.7</text>
</g>
<g class="n" fill="#444" font-size="25" text-anchor="middle">
 <text x="1763" y="1752">2008</text><text x="1876.3" y="1752">2009</text><text x="1989.6" y="1752">2010</text><text x="2102.9" y="1752">2011</text>
 <text x="2216.2" y="1752">2012</text><text x="2329.5" y="1752">2013</text><text x="2442.8" y="1752">2014</text><text x="2556.1" y="1752">2015</text>
</g>
</g>
</svg>
</body></html>
